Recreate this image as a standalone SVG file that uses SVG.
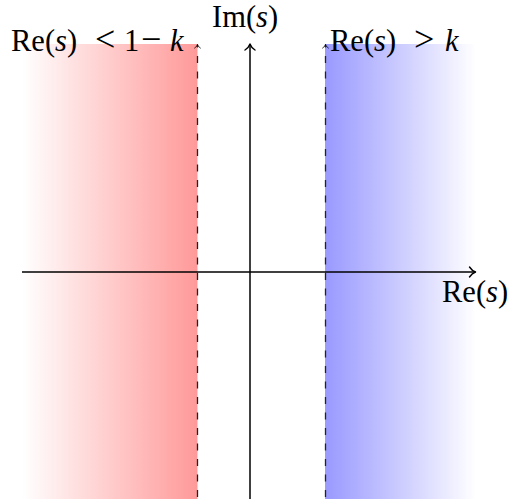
<svg xmlns="http://www.w3.org/2000/svg" width="509" height="499" viewBox="0 0 509 499">
<style>
.lbl{font-family:"Liberation Serif","DejaVu Serif",serif;font-size:30.5px;fill:#000}
.it{font-style:italic}
.sym{font-size:36px}
.axis{stroke:#000;stroke-width:1.5;fill:none}
.dash{stroke:#222;stroke-width:1.3;fill:none;stroke-dasharray:7 8.5;stroke-dashoffset:7.5}
.tip{stroke:#000;fill:none;stroke-linecap:round;stroke-linejoin:round}
</style>
<defs>
<linearGradient id="gRed" gradientUnits="userSpaceOnUse" x1="22" y1="0" x2="197.5" y2="0">
<stop offset="0" stop-color="#ffffff"/>
<stop offset="1" stop-color="#ff9999"/>
</linearGradient>
<linearGradient id="gBlue" gradientUnits="userSpaceOnUse" x1="325" y1="0" x2="476" y2="0">
<stop offset="0" stop-color="#9999ff"/>
<stop offset="1" stop-color="#ffffff"/>
</linearGradient>
<marker id="big" markerUnits="userSpaceOnUse" viewBox="-8 -7 10 14" refX="0" refY="0" markerWidth="10" markerHeight="14" orient="auto" overflow="visible">
<path class="tip" stroke-width="1.4" d="M-6,-5 C-4,-2 -1.8,-0.6 0,0 C-1.8,0.6 -4,2 -6,5"/>
</marker>
<marker id="small" markerUnits="userSpaceOnUse" viewBox="-5 -4 6 8" refX="0" refY="0" markerWidth="6" markerHeight="8" orient="auto" overflow="visible">
<path class="tip" stroke-width="0.9" d="M-3.5,-2.8 C-2.3,-1.1 -1,-0.3 0,0 C-1,0.3 -2.3,1.1 -3.5,2.8"/>
</marker>
</defs>

<g id="region-left">
<rect x="22" y="44" width="175.5" height="455" fill="url(#gRed)"/>
</g>
<g id="region-right">
<rect x="325" y="44" width="151" height="455" fill="url(#gBlue)"/>
</g>

<g id="connectors">
<path class="dash" d="M197.5,505 L197.5,44.5" marker-end="url(#small)"/>
<path class="dash" d="M325.5,505 L325.5,44.5" marker-end="url(#small)"/>
<path class="axis" d="M250,499 L250,44" marker-end="url(#big)"/>
<path class="axis" d="M22,272 L475.5,272" marker-end="url(#big)"/>
</g>

<g id="label-left">
<text class="lbl" y="51"><tspan x="11">Re(</tspan><tspan class="it">s</tspan><tspan>)</tspan><tspan x="95" class="sym">&lt;</tspan><tspan x="124">1</tspan><tspan x="141" class="sym">−</tspan><tspan x="170" class="it">k</tspan></text>
</g>
<g id="label-im">
<text class="lbl" y="27"><tspan x="212">Im(</tspan><tspan class="it">s</tspan><tspan>)</tspan></text>
</g>
<g id="label-right">
<text class="lbl" y="51"><tspan x="330">Re(</tspan><tspan class="it">s</tspan><tspan>)</tspan><tspan x="414" class="sym">&gt;</tspan><tspan x="445" class="it">k</tspan></text>
</g>
<g id="label-re">
<text class="lbl" y="302"><tspan x="442">Re(</tspan><tspan class="it">s</tspan><tspan>)</tspan></text>
</g>
</svg>
